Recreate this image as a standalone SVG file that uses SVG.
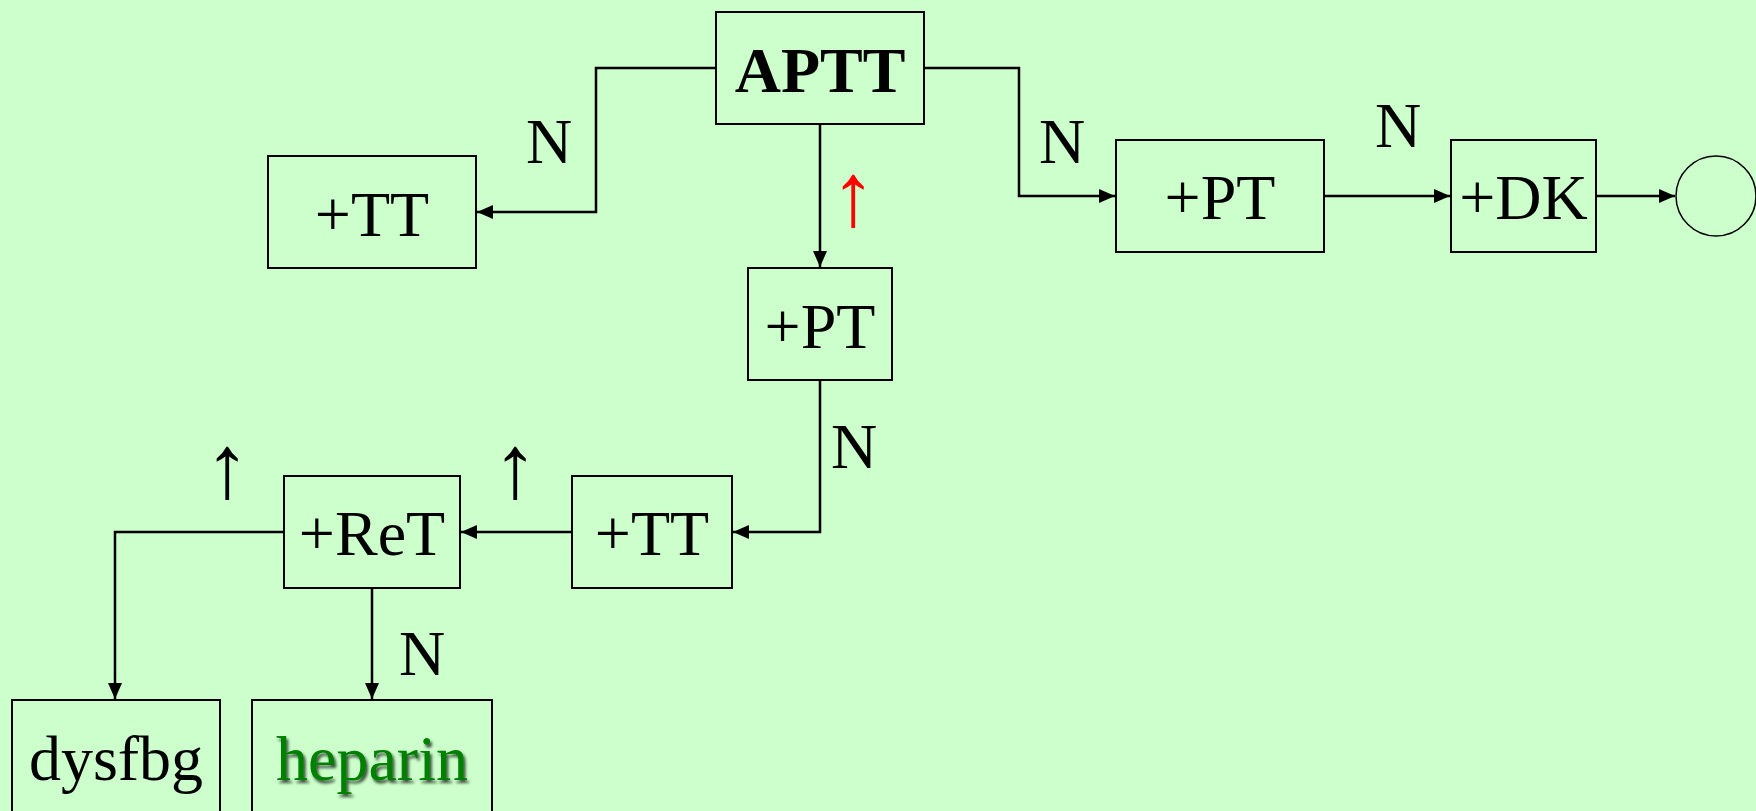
<svg xmlns="http://www.w3.org/2000/svg" width="1756" height="811" viewBox="0 0 1756 811">
  <style>
    .box { fill: none; stroke: #000; stroke-width: 2; }
    .lbl { font-family: "Liberation Serif", "Times New Roman", serif; font-size: 64px; fill: #000; text-anchor: middle; }
    .bold { font-weight: bold; }
    .conn { fill: none; stroke: #000; stroke-width: 2.5; }
    .up { font-family: "Liberation Serif", "Times New Roman", serif; font-size: 90px; text-anchor: middle; }
  </style>
  <defs>
    <marker id="arr" viewBox="0 0 16 14" refX="16" refY="7" markerWidth="16" markerHeight="14" markerUnits="userSpaceOnUse" orient="auto">
      <path d="M0,0 L16,7 L0,14 z" fill="#000"/>
    </marker>
    <filter id="shadow" x="-10%" y="-20%" width="130%" height="150%">
      <feDropShadow dx="2" dy="3" stdDeviation="1.5" flood-color="#000" flood-opacity="0.7"/>
    </filter>
  </defs>
  <rect x="0" y="0" width="1756" height="811" fill="#CCFFCC"/>

  <g id="connectors">
    <path class="conn" d="M716,68 H596 V212 H477" marker-end="url(#arr)"/>
    <path class="conn" d="M820,124 V267" marker-end="url(#arr)"/>
    <path class="conn" d="M924,68 H1019 V196 H1115" marker-end="url(#arr)"/>
    <path class="conn" d="M1324,196 H1450" marker-end="url(#arr)"/>
    <path class="conn" d="M1596,196 H1675" marker-end="url(#arr)"/>
    <path class="conn" d="M820,380 V532 H733" marker-end="url(#arr)"/>
    <path class="conn" d="M572,532 H461" marker-end="url(#arr)"/>
    <path class="conn" d="M284,532 H115 V699" marker-end="url(#arr)"/>
    <path class="conn" d="M372,588 V699" marker-end="url(#arr)"/>
    <text class="lbl" x="549" y="163">N</text>
    <text class="lbl" x="1062" y="163">N</text>
    <text class="lbl" x="1398" y="147">N</text>
    <text class="lbl" x="854" y="468">N</text>
    <text class="lbl" x="422" y="675">N</text>
    <text class="up" x="853" y="225" fill="#FF0000">↑</text>
    <text class="up" x="227" y="497" fill="#000">↑</text>
    <text class="up" x="515" y="497" fill="#000">↑</text>
  </g>

  <g id="aptt">
    <rect class="box" x="716" y="12" width="208" height="112"/>
    <text class="lbl bold" x="820" y="92">APTT</text>
  </g>
  <g id="tt1">
    <rect class="box" x="268" y="156" width="208" height="112"/>
    <text class="lbl" x="372" y="236">+TT</text>
  </g>
  <g id="pt-mid">
    <rect class="box" x="748" y="268" width="144" height="112"/>
    <text class="lbl" x="820" y="348">+PT</text>
  </g>
  <g id="pt-right">
    <rect class="box" x="1116" y="140" width="208" height="112"/>
    <text class="lbl" x="1220" y="219">+PT</text>
  </g>
  <g id="dk">
    <rect class="box" x="1451" y="140" width="145" height="112"/>
    <text class="lbl" x="1523.5" y="219">+DK</text>
  </g>
  <g id="end">
    <circle cx="1716" cy="196" r="40" fill="none" stroke="#000" stroke-width="1.5"/>
  </g>
  <g id="tt2">
    <rect class="box" x="572" y="476" width="160" height="112"/>
    <text class="lbl" x="652" y="555">+TT</text>
  </g>
  <g id="ret">
    <rect class="box" x="284" y="476" width="176" height="112"/>
    <text class="lbl" x="372" y="555">+ReT</text>
  </g>
  <g id="dysfbg">
    <rect class="box" x="12" y="700" width="208" height="130"/>
    <text class="lbl" x="116" y="780">dysfbg</text>
  </g>
  <g id="heparin">
    <rect class="box" x="252" y="700" width="240" height="130"/>
    <text class="lbl" x="372" y="780" fill="#008000" style="fill:#008000" filter="url(#shadow)">heparin</text>
  </g>
</svg>
